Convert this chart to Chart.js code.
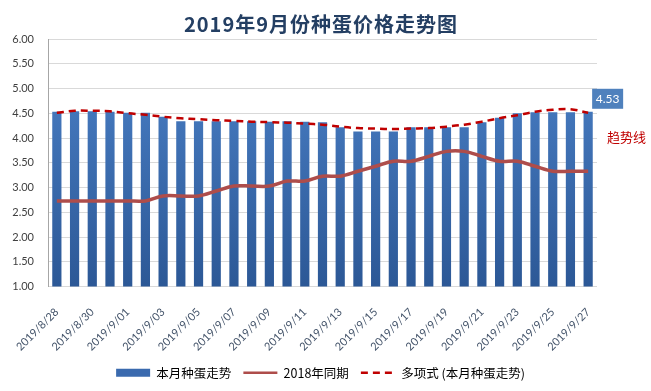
<!DOCTYPE html>
<html>
<head>
<meta charset="utf-8">
<script src="https://cdn.jsdelivr.net/npm/chart.js@4"></script>
<style>
html,body{margin:0;padding:0;background:#fff;}
#wrap{width:651px;height:391px;position:relative;}
</style>
</head>
<body>
<div id="wrap"><canvas id="c" width="651" height="391"></canvas></div>
<script>
const titleText = '2019年9月份种蛋价格走势图';
const categories = ['2019/8/28','2019/8/29','2019/8/30','2019/8/31','2019/9/01','2019/9/02','2019/9/03','2019/9/04','2019/9/05','2019/9/06','2019/9/07','2019/9/08','2019/9/09','2019/9/10','2019/9/11','2019/9/12','2019/9/13','2019/9/14','2019/9/15','2019/9/16','2019/9/17','2019/9/18','2019/9/19','2019/9/20','2019/9/21','2019/9/22','2019/9/23','2019/9/24','2019/9/25','2019/9/26','2019/9/27'];
const seriesNames = ['本月种蛋走势','2018年同期','多项式 (本月种蛋走势)'];
const thisMonth = [4.53,4.54,4.54,4.53,4.51,4.51,4.43,4.34,4.34,4.34,4.34,4.34,4.33,4.34,4.33,4.32,4.22,4.13,4.13,4.13,4.22,4.22,4.22,4.22,4.32,4.41,4.50,4.52,4.52,4.52,4.53];
const lastYear = [2.73,2.73,2.73,2.73,2.73,2.73,2.83,2.83,2.83,2.93,3.03,3.03,3.03,3.13,3.13,3.23,3.23,3.33,3.43,3.53,3.53,3.63,3.73,3.73,3.63,3.53,3.53,3.43,3.33,3.33,3.33];
const trend = [4.51,4.55,4.55,4.54,4.50,4.47,4.43,4.40,4.38,4.36,4.345,4.33,4.32,4.31,4.29,4.27,4.23,4.20,4.19,4.18,4.19,4.20,4.23,4.27,4.33,4.40,4.46,4.53,4.57,4.58,4.51];
const yTicks = [1.00,1.50,2.00,2.50,3.00,3.50,4.00,4.50,5.00,5.50,6.00];
const lastLabel = '4.53';
const trendLabel = '趋势线';

const numFont = "Lato, 'Noto Sans CJK SC', sans-serif";
const cjkFont = "'Noto Sans CJK SC', Lato, sans-serif";

function barGradient(ctx) {
  const chart = ctx.chart;
  const area = chart.chartArea;
  if (!area) return '#3F6FB0';
  const g = chart.ctx.createLinearGradient(0, area.top, 0, area.bottom);
  g.addColorStop(0, '#4C82C9');
  g.addColorStop(1, '#2C5896');
  return g;
}

const extras = {
  id: 'extras',
  afterDraw(chart) {
    const c = chart.ctx;
    const xs = chart.scales.x, ys = chart.scales.y;
    // title
    c.save();
    c.fillStyle = '#243F63';
    c.font = "bold 20px " + cjkFont;
    try { c.letterSpacing = '1px'; } catch (e) {}
    c.textAlign = 'center';
    c.textBaseline = 'middle';
    c.fillText(titleText, 321, 24);
    c.restore();
    // last value label
    const last = thisMonth.length - 1;
    const bx = xs.getPixelForValue(last) + 4;
    const by = ys.getPixelForValue(thisMonth[last]) - 3;
    c.save();
    c.fillStyle = '#4F81BD';
    c.fillRect(bx, by - 20, 31, 20);
    c.fillStyle = '#ffffff';
    c.font = "12px " + numFont;
    c.textAlign = 'center';
    c.textBaseline = 'middle';
    c.fillText(lastLabel, bx + 15.5, by - 10);
    // trend label
    c.fillStyle = '#C00000';
    c.font = "13px " + cjkFont;
    c.textAlign = 'left';
    c.fillText(trendLabel, chart.chartArea.right + 10, ys.getPixelForValue(4.02));
    c.restore();
  }
};

new Chart(document.getElementById('c'), {
  type: 'bar',
  data: {
    labels: categories,
    datasets: [
      {
        type: 'bar',
        label: seriesNames[0],
        data: thisMonth,
        backgroundColor: barGradient,
        borderWidth: 0,
        categoryPercentage: 1,
        barPercentage: 0.52,
        order: 3
      },
      {
        type: 'line',
        label: seriesNames[1],
        data: lastYear,
        borderColor: '#AE4D4B',
        backgroundColor: '#AE4D4B',
        borderWidth: 3.5,
        pointRadius: 0,
        tension: 0.35,
        order: 2
      },
      {
        type: 'line',
        label: seriesNames[2],
        data: trend,
        borderColor: '#C00000',
        backgroundColor: '#C00000',
        borderWidth: 2.5,
        borderDash: [7, 5],
        pointRadius: 0,
        tension: 0.4,
        order: 1
      }
    ]
  },
  options: {
    responsive: false,
    animation: false,
    events: [],
    layout: { padding: { top: 39, right: 14, left: 4, bottom: 2 } },
    plugins: {
      title: { display: false },
      tooltip: { enabled: false },
      legend: {
        position: 'bottom',
        labels: {
          usePointStyle: true,
          pointStyleWidth: 34,
          boxHeight: 8,
          padding: 12,
          color: '#000',
          font: { size: 12.5, family: cjkFont },
          sort: (a, b) => a.datasetIndex - b.datasetIndex,
          generateLabels(chart) {
            const items = Chart.defaults.plugins.legend.labels.generateLabels(chart);
            items.forEach(it => {
              if (it.datasetIndex === 0) {
                it.pointStyle = 'rect';
                it.fillStyle = '#3A6AAE';
                it.strokeStyle = '#3A6AAE';
                it.lineWidth = 0;
              } else if (it.datasetIndex === 1) {
                it.pointStyle = 'line';
                it.strokeStyle = '#AE4D4B';
                it.lineWidth = 2.5;
                it.lineDash = [];
              } else {
                it.pointStyle = 'line';
                it.strokeStyle = '#C00000';
                it.lineWidth = 2.5;
                it.lineDash = [7, 5];
              }
            });
            return items;
          }
        }
      }
    },
    scales: {
      x: {
        grid: { display: false },
        border: { display: false },
        afterFit(scale) { scale.height -= 10; },
        ticks: {
          autoSkip: false,
          maxRotation: 45,
          minRotation: 45,
          padding: 11,
          color: '#44546A',
          font: { size: 11, family: numFont },
          callback: function(v, i) { return i % 2 === 0 ? categories[i] : ''; }
        }
      },
      y: {
        min: 1,
        max: 6,
        afterBuildTicks(scale) { scale.ticks = yTicks.map(v => ({ value: v })); },
        afterFit(scale) { scale.width = 44; },
        grid: { color: '#D9D9D9', lineWidth: 1, drawTicks: false },
        border: { display: true, color: '#A6A6A6' },
        ticks: {
          padding: 14,
          color: '#404040',
          font: { size: 11, family: numFont },
          callback: v => Number(v).toFixed(2)
        }
      },
      ySpace: {
        position: 'right',
        display: true,
        afterFit(scale) { scale.width = 40; },
        grid: { display: false },
        border: { display: false },
        ticks: { display: false }
      }
    }
  },
  plugins: [extras]
});
</script>
</body>
</html>
